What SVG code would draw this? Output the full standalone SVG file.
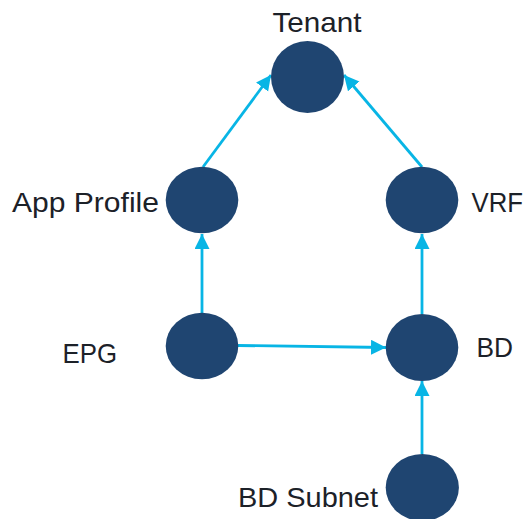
<svg xmlns="http://www.w3.org/2000/svg" width="526" height="519" viewBox="0 0 526 519">
<style>
.node{fill:#1f4571}
.lbl{font-family:"Liberation Sans",Arial,sans-serif;font-size:28px;fill:#1c2128}
.edge{stroke:#08b5e5;stroke-width:2.8;fill:none;marker-end:url(#ah)}
</style>
<defs>
<marker id="ah" markerUnits="userSpaceOnUse" markerWidth="16" markerHeight="16" refX="15" refY="7.5" orient="auto">
<path d="M0,0 L15,7.5 L0,15 z" fill="#08b5e5"/>
</marker>
</defs>
<rect width="526" height="519" fill="#ffffff"/>
<g id="connectors">
<line class="edge" x1="203" y1="167" x2="271" y2="75"/>
<line class="edge" x1="422" y1="167" x2="344" y2="75"/>
<line class="edge" x1="202" y1="313" x2="202" y2="234"/>
<line class="edge" x1="422" y1="314" x2="422" y2="234"/>
<line class="edge" x1="238" y1="345.5" x2="386" y2="347.5"/>
<line class="edge" x1="422" y1="454" x2="422" y2="381"/>
</g>
<g id="tenant">
<ellipse class="node" cx="307.5" cy="77" rx="36.5" ry="36"/>
<text class="lbl" x="272.5" y="31.5" textLength="89" lengthAdjust="spacingAndGlyphs">Tenant</text>
</g>
<g id="app-profile">
<ellipse class="node" cx="202" cy="200" rx="36.3" ry="33.3"/>
<text class="lbl" x="12" y="211.5" textLength="147" lengthAdjust="spacingAndGlyphs">App Profile</text>
</g>
<g id="vrf">
<ellipse class="node" cx="422" cy="200" rx="36.3" ry="33.3"/>
<text class="lbl" x="471.5" y="212" textLength="51.5" lengthAdjust="spacingAndGlyphs">VRF</text>
</g>
<g id="epg">
<ellipse class="node" cx="202" cy="346" rx="36.3" ry="33.3"/>
<text class="lbl" x="62.5" y="363" textLength="54.5" lengthAdjust="spacingAndGlyphs">EPG</text>
</g>
<g id="bd">
<ellipse class="node" cx="422" cy="347.5" rx="36.3" ry="33.5"/>
<text class="lbl" x="476.5" y="357" textLength="36.5" lengthAdjust="spacingAndGlyphs">BD</text>
</g>
<g id="bd-subnet">
<ellipse class="node" cx="422.3" cy="487.5" rx="36.6" ry="33.5"/>
<text class="lbl" x="238" y="506.5" textLength="140" lengthAdjust="spacingAndGlyphs">BD Subnet</text>
</g>
</svg>
